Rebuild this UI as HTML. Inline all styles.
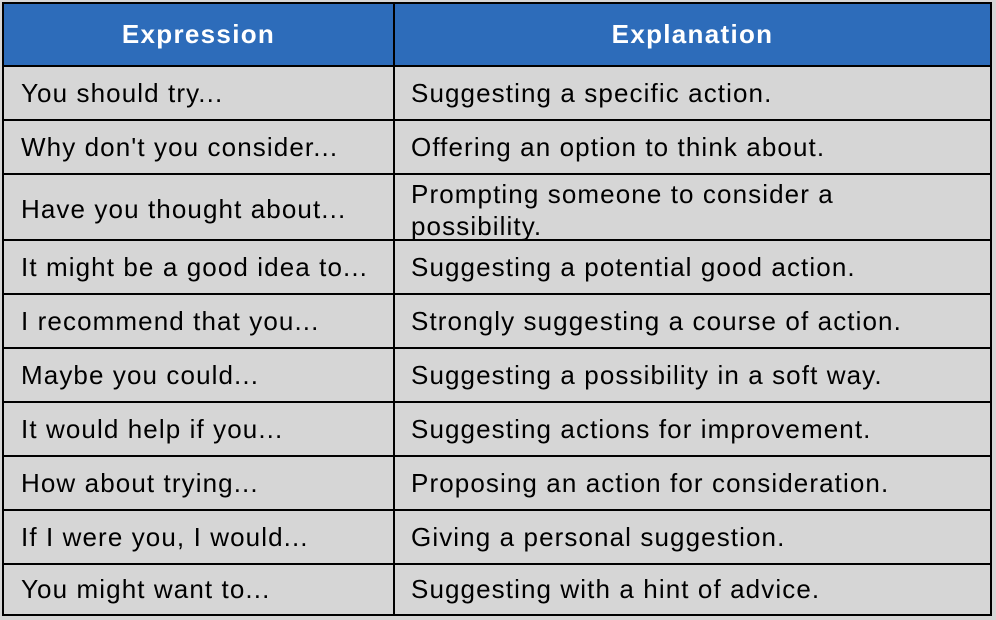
<!DOCTYPE html>
<html><head><style>
html,body{margin:0;padding:0;background:#d6d6d6;width:996px;height:620px;overflow:hidden;font-family:"Liberation Sans",Arial,sans-serif}
.t{position:absolute;left:2px;top:2px;width:986px;height:610px;border:2px solid #000;background:#d6d6d6}
.h{position:absolute;left:0;top:0;width:986px;height:61px;background:#2d6cba;border-bottom:2px solid #000}
.hl{position:absolute;color:#fff;font-weight:bold;font-size:26px;letter-spacing:1.3px;top:15px}
.v{position:absolute;left:389px;top:0;width:2px;height:610px;background:#000}
.r{position:absolute;left:0;width:986px;height:2px;background:#000}
.c{position:absolute;font-size:26px;letter-spacing:1.1px;color:#000;line-height:30px;white-space:nowrap}
</style></head><body>
<div class="t">
<div class="h"></div>
<div class="hl" style="left:0;width:389px;text-align:center">Expression</div>
<div class="hl" style="left:391px;width:595px;text-align:center">Explanation</div>
<div class="v"></div>
<div class="r" style="top:115px"></div>
<div class="r" style="top:169px"></div>
<div class="r" style="top:235px"></div>
<div class="r" style="top:289px"></div>
<div class="r" style="top:343px"></div>
<div class="r" style="top:397px"></div>
<div class="r" style="top:451px"></div>
<div class="r" style="top:505px"></div>
<div class="r" style="top:559px"></div>

<div class="c" style="left:17px;top:74px">You should try...</div>
<div class="c" style="left:407px;top:74px">Suggesting a specific action.</div>
<div class="c" style="left:17px;top:128px">Why don't you consider...</div>
<div class="c" style="left:407px;top:128px">Offering an option to think about.</div>
<div class="c" style="left:17px;top:190px">Have you thought about...</div>
<div class="c" style="left:407px;top:174px;line-height:32px">Prompting someone to consider a<br>possibility.</div>
<div class="c" style="left:17px;top:248px">It might be a good idea to...</div>
<div class="c" style="left:407px;top:248px">Suggesting a potential good action.</div>
<div class="c" style="left:17px;top:302px">I recommend that you...</div>
<div class="c" style="left:407px;top:302px">Strongly suggesting a course of action.</div>
<div class="c" style="left:17px;top:356px">Maybe you could...</div>
<div class="c" style="left:407px;top:356px">Suggesting a possibility in a soft way.</div>
<div class="c" style="left:17px;top:410px">It would help if you...</div>
<div class="c" style="left:407px;top:410px">Suggesting actions for improvement.</div>
<div class="c" style="left:17px;top:464px">How about trying...</div>
<div class="c" style="left:407px;top:464px">Proposing an action for consideration.</div>
<div class="c" style="left:17px;top:518px">If I were you, I would...</div>
<div class="c" style="left:407px;top:518px">Giving a personal suggestion.</div>
<div class="c" style="left:17px;top:570px">You might want to...</div>
<div class="c" style="left:407px;top:570px">Suggesting with a hint of advice.</div>
</div>
</body></html>
